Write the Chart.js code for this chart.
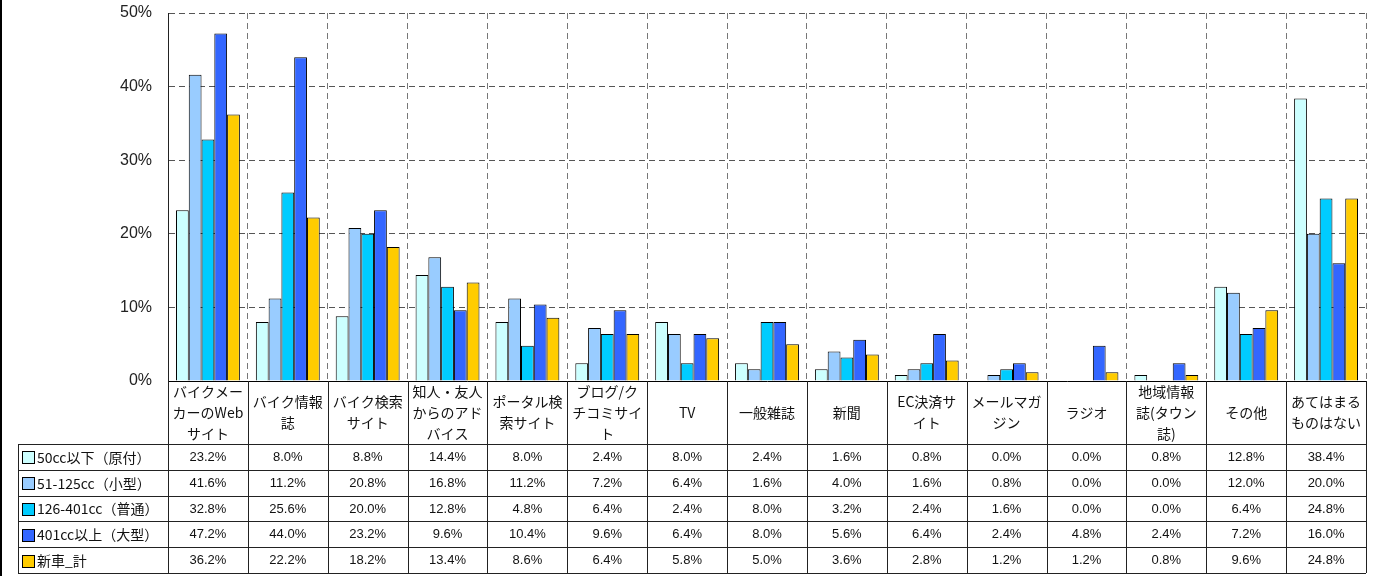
<!DOCTYPE html>
<html>
<head>
<meta charset="utf-8">
<script src="https://cdn.jsdelivr.net/npm/chart.js@4"></script>
<style>
  html,body{margin:0;padding:0;background:#fff;}
  canvas{display:block;}
</style>
</head>
<body>
<canvas id="c" width="1375" height="576"></canvas>
<script>
const categories = [
  ["バイクメー","カーのWeb","サイト"],
  ["バイク情報","誌"],
  ["バイク検索","サイト"],
  ["知人・友人","からのアド","バイス"],
  ["ポータル検","索サイト"],
  ["ブログ/ク","チコミサイ","ト"],
  ["TV"],
  ["一般雑誌"],
  ["新聞"],
  ["EC決済サ","イト"],
  ["メールマガ","ジン"],
  ["ラジオ"],
  ["地域情報","誌(タウン","誌)"],
  ["その他"],
  ["あてはまる","ものはない"]
];
const seriesNames = ["50cc以下（原付）","51-125cc（小型）","126-401cc（普通）","401cc以上（大型）","新車_計"];
const s50    = [23.2, 8.0, 8.8, 14.4, 8.0, 2.4, 8.0, 2.4, 1.6, 0.8, 0.0, 0.0, 0.8, 12.8, 38.4];
const s125   = [41.6, 11.2, 20.8, 16.8, 11.2, 7.2, 6.4, 1.6, 4.0, 1.6, 0.8, 0.0, 0.0, 12.0, 20.0];
const s401   = [32.8, 25.6, 20.0, 12.8, 4.8, 6.4, 2.4, 8.0, 3.2, 2.4, 1.6, 0.0, 0.0, 6.4, 24.8];
const sOver  = [47.2, 44.0, 23.2, 9.6, 10.4, 9.6, 6.4, 8.0, 5.6, 6.4, 2.4, 4.8, 2.4, 7.2, 16.0];
const sTotal = [36.2, 22.2, 18.2, 13.4, 8.6, 6.4, 5.8, 5.0, 3.6, 2.8, 1.2, 1.2, 0.8, 9.6, 24.8];
const yTicks = [0, 10, 20, 30, 40, 50];
const colors = ["#CCFFFF","#99CCFF","#00CCFF","#3366FF","#FFCC00"];
const seriesData = [s50, s125, s401, sOver, sTotal];

const tablePlugin = {
  id: 'tablePlugin',
  afterDraw(chart) {
    const ctx = chart.ctx;
    const ca = chart.chartArea;
    const n = categories.length;
    const w = (ca.right - ca.left) / n;
    const headTop = ca.bottom;
    const headBottom = 444;
    const rowH = 25.8;
    const tableBottom = headBottom + rowH * 5;
    const legendLeft = 18;
    ctx.save();
    ctx.fillStyle = '#000';
    ctx.fillRect(0, 0, 2, 576);
    ctx.strokeStyle = '#222';
    ctx.lineWidth = 1;
    ctx.beginPath();
    for (let i = 0; i <= n; i++) {
      const x = Math.round(ca.left + i * w) + 0.5;
      ctx.moveTo(x, headTop);
      ctx.lineTo(x, tableBottom);
    }
    ctx.moveTo(legendLeft + 0.5, headBottom);
    ctx.lineTo(legendLeft + 0.5, tableBottom);
    for (let r = 0; r <= 5; r++) {
      const y = Math.round(headBottom + r * rowH) + 0.5;
      ctx.moveTo(legendLeft, y);
      ctx.lineTo(ca.right, y);
    }
    ctx.stroke();
    ctx.fillStyle = '#111';
    ctx.textAlign = 'center';
    ctx.textBaseline = 'middle';
    ctx.font = '14px "Noto Sans CJK JP"';
    const headMid = (headTop + headBottom) / 2;
    categories.forEach((lines, i) => {
      const cx = chart.scales.x.getPixelForValue(i);
      const y0 = headMid - (lines.length - 1) * 10.5;
      lines.forEach((t, k) => ctx.fillText(t, cx, y0 + k * 21));
    });
    const valFont = '13px "Liberation Sans", Arial, sans-serif';
    ctx.font = valFont;
    seriesData.forEach((arr, r) => {
      const yMid = headBottom + r * rowH + rowH / 2 + 0.5;
      arr.forEach((v, i) => {
        const cx = chart.scales.x.getPixelForValue(i);
        ctx.fillText(v.toFixed(1) + '%', cx, yMid);
      });
      ctx.fillStyle = colors[r];
      ctx.fillRect(22.5, Math.round(yMid - 6) + 0.5, 12, 12);
      ctx.strokeStyle = '#000';
      ctx.strokeRect(22.5, Math.round(yMid - 6) + 0.5, 12, 12);
      ctx.fillStyle = '#111';
      ctx.textAlign = 'left';
      ctx.font = '14px "Noto Sans CJK JP"';
      ctx.fillText(seriesNames[r], 37, yMid);
      ctx.textAlign = 'center';
      ctx.font = valFont;
    });
    ctx.restore();
  }
};

new Chart(document.getElementById('c'), {
  type: 'bar',
  data: {
    labels: categories.map(l => l.join('')),
    datasets: seriesNames.map((name, i) => ({
      label: name,
      data: seriesData[i],
      backgroundColor: colors[i],
      borderColor: '#000',
      borderWidth: 1,
      categoryPercentage: 0.8,
      barPercentage: 1.0
    }))
  },
  options: {
    responsive: false,
    animation: false,
    devicePixelRatio: 1,
    layout: { padding: { left: 0, right: 9, top: 13, bottom: 195 } },
    plugins: { legend: { display: false }, tooltip: { enabled: false } },
    scales: {
      x: {
        ticks: { display: false },
        grid: { color: '#777', drawTicks: false, offset: true },
        border: { color: '#000', width: 1, dash: [6, 4] }
      },
      y: {
        min: 0, max: 50,
        afterBuildTicks(scale) { scale.ticks = yTicks.map(v => ({ value: v })); },
        afterFit(scale) { scale.width = 168; scale.paddingTop = 0; scale.paddingBottom = 0; },
        ticks: {
          padding: 16,
          color: '#222',
          font: { size: 16, family: '"Liberation Sans", Arial, sans-serif' },
          callback: v => v + '%'
        },
        grid: { color: '#555', drawTicks: false },
        border: { color: '#222', width: 1, dash: [6, 4] }
      }
    }
  },
  plugins: [tablePlugin]
});
</script>
</body>
</html>
